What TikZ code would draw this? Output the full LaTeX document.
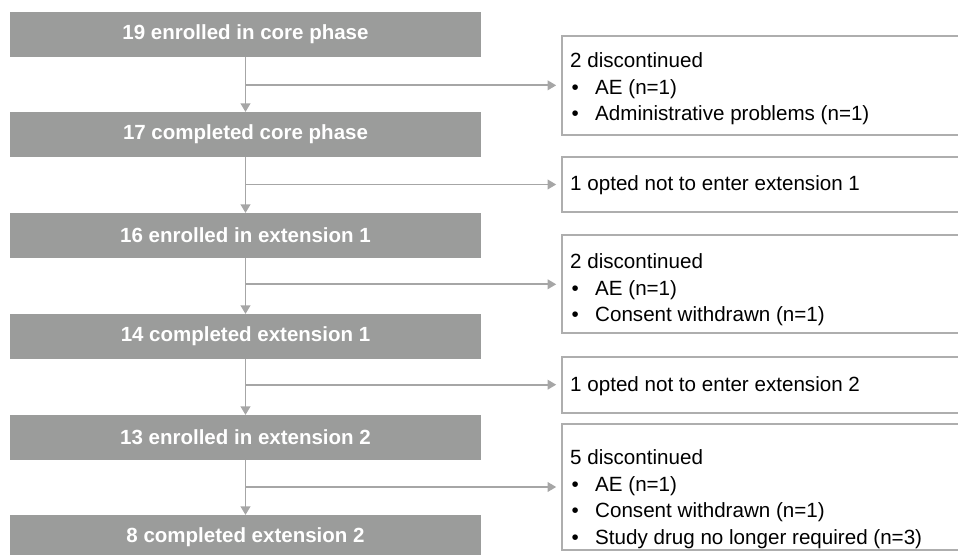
\documentclass[tikz,border=0pt]{standalone}
\usepackage{fontspec}
\setmainfont{Liberation Sans}
\usetikzlibrary{arrows.meta}
\definecolor{boxgray}{RGB}{155,156,155}
\definecolor{linegray}{RGB}{166,166,166}
\definecolor{framegray}{RGB}{174,174,174}
\newcommand\bul{\makebox[25pt][l]{\hspace{1.5pt}•}}
\begin{document}
\begin{tikzpicture}[x=1pt,y=1pt,
  phase/.style={fill=boxgray, draw=none, minimum width=471pt, minimum height=45pt,
    inner sep=0pt, outer sep=0pt, text=white, font=\fontsize{20.5}{24}\selectfont\bfseries},
  outbox/.style={draw=framegray, line width=2pt, inner sep=0pt, outer sep=0pt,
    anchor=north west, minimum width=420pt},
  outtext/.style={anchor=west, align=left, inner sep=0pt, font=\fontsize{20.6}{26.5}\selectfont},
  arr/.style={draw=linegray, line width=1.8pt, -{Triangle[width=9.5pt,length=8.5pt]}}]
\useasboundingbox (0,0) rectangle (958,554);
\clip (0,0) rectangle (958,554);
% phase boxes
\node[phase] (b1) at (245.5,519.5) {19 enrolled in core phase};
\node[phase] (b2) at (245.5,419.5) {17 completed core phase};
\node[phase] (b3) at (245.5,318.5) {16 enrolled in extension 1};
\node[phase] (b4) at (245.5,217.5) {14 completed extension 1};
\node[phase] (b5) at (245.5,116.5) {13 enrolled in extension 2};
\node[phase] (b6) at (245.5,16.5) {8 completed extension 2};
% outcome boxes
\node[outbox, minimum height=98.7pt] (r1) at (561.7,518) {};
\node[outbox, minimum height=55.6pt] (r2) at (561.7,397.3) {};
\node[outbox, minimum height=98pt] (r3) at (561.7,318.7) {};
\node[outbox, minimum height=56pt] (r4) at (561.7,197.3) {};
\node[outbox, minimum height=126pt] (r5) at (561.7,130) {};
% texts
\node[outtext] (t1) at (570,465) {2 discontinued\\\bul AE (n=1)\\\bul Administrative problems (n=1)};
\node[outtext] (t2) at (570,369) {1 opted not to enter extension 1};
\node[outtext] (t3) at (570,264) {2 discontinued\\\bul AE (n=1)\\\bul Consent withdrawn (n=1)};
\node[outtext] (t4) at (570,168) {1 opted not to enter extension 2};
\node[outtext] (t5) at (570,55) {5 discontinued\\\bul AE (n=1)\\\bul Consent withdrawn (n=1)\\\bul Study drug no longer required (n=3)};
% vertical arrows
\draw[arr] (b1.south) -- (b2.north);
\draw[arr] (b2.south) -- (b3.north);
\draw[arr] (b3.south) -- (b4.north);
\draw[arr] (b4.south) -- (b5.north);
\draw[arr] (b5.south) -- (b6.north);
% horizontal arrows
\draw[arr] (b1.south |- r1.west) -- ([xshift=-5.5pt]r1.west);
\draw[arr] (b2.south |- r2.west) -- ([xshift=-5.5pt]r2.west);
\draw[arr] (b3.south |- r3.west) -- ([xshift=-5.5pt]r3.west);
\draw[arr] (b4.south |- r4.west) -- ([xshift=-5.5pt]r4.west);
\draw[arr] (b5.south |- r5.west) -- ([xshift=-5.5pt]r5.west);
\end{tikzpicture}
\end{document}
